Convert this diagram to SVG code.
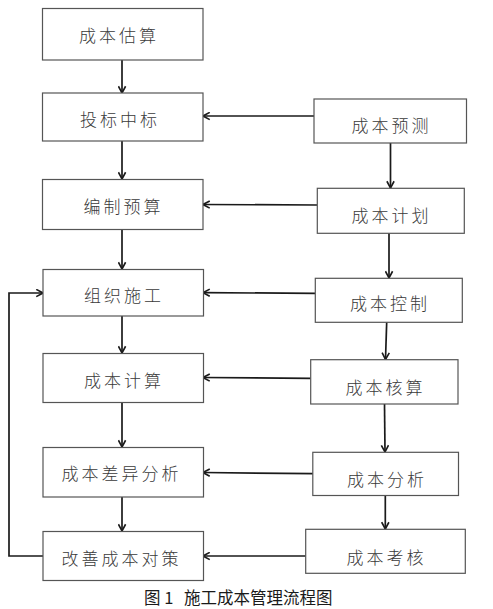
<svg xmlns="http://www.w3.org/2000/svg" width="493" height="609" viewBox="0 0 493 609">
<defs>
<style>
.box{fill:#fff;stroke:#555;stroke-width:1.2}
.lbl{font-family:"Noto Sans CJK SC","Noto Sans",sans-serif;font-size:17px;font-weight:300;fill:#3a3a3a;letter-spacing:3px;text-anchor:middle;dominant-baseline:central}
.cap{font-family:"Noto Sans CJK SC","Noto Sans",sans-serif;font-size:16.5px;fill:#1a1a1a}
.ln{fill:none;stroke:#1a1a1a;stroke-width:1.7}
.arw{marker-end:url(#arr)}
</style>
<marker id="arr" viewBox="0 0 10 10" refX="9" refY="5" markerWidth="9" markerHeight="9" markerUnits="userSpaceOnUse" orient="auto">
<path d="M1.5,1 L9,5 L1.5,9" fill="none" stroke="#1a1a1a" stroke-width="1.8"/>
</marker>
</defs>
<rect width="493" height="609" fill="#fff"/>

<g id="connectors">
<line class="ln arw" x1="122" y1="60" x2="122" y2="93"/>
<line class="ln arw" x1="122" y1="141" x2="122" y2="179"/>
<line class="ln arw" x1="122" y1="229" x2="122" y2="269"/>
<line class="ln arw" x1="122" y1="316" x2="122" y2="353"/>
<line class="ln arw" x1="122" y1="402" x2="122" y2="447"/>
<line class="ln arw" x1="122" y1="497" x2="122" y2="531"/>
<polyline class="ln arw" points="43,556 9,556 9,293 43,293"/>

<line class="ln arw" x1="390.5" y1="143" x2="390.5" y2="188"/>
<line class="ln arw" x1="389" y1="233" x2="389" y2="278"/>
<line class="ln arw" x1="386.7" y1="322" x2="385.5" y2="359.5"/>
<line class="ln arw" x1="384.5" y1="404" x2="385" y2="452"/>
<line class="ln arw" x1="385.3" y1="495.5" x2="385.3" y2="529"/>

<line class="ln arw" x1="314" y1="116" x2="203" y2="116"/>
<line class="ln arw" x1="317" y1="205" x2="203" y2="204.5"/>
<line class="ln arw" x1="315" y1="293.3" x2="203" y2="292.7"/>
<line class="ln arw" x1="310.7" y1="378.3" x2="203" y2="377.5"/>
<line class="ln arw" x1="313" y1="473.7" x2="203" y2="472.5"/>
<line class="ln arw" x1="305.7" y1="556" x2="203" y2="556"/>
</g>

<g id="n-gusuan"><rect class="box" x="42.5" y="8.5" width="160.5" height="51.5"/><text class="lbl" x="119" y="34">成本估算</text></g>
<g id="n-toubiao"><rect class="box" x="42.5" y="93" width="160.5" height="48"/><text class="lbl" x="120" y="118">投标中标</text></g>
<g id="n-bianzhi"><rect class="box" x="42.5" y="179.5" width="160.5" height="50"/><text class="lbl" x="123.5" y="205">编制预算</text></g>
<g id="n-zuzhi"><rect class="box" x="43" y="269.5" width="160.5" height="46.5"/><text class="lbl" x="124" y="294">组织施工</text></g>
<g id="n-jisuan"><rect class="box" x="43" y="353.5" width="160.5" height="49"/><text class="lbl" x="124" y="379">成本计算</text></g>
<g id="n-chayi"><rect class="box" x="43" y="447.5" width="160.5" height="49.5"/><text class="lbl" x="121.5" y="472.5">成本差异分析</text></g>
<g id="n-gaishan"><rect class="box" x="43" y="531.5" width="160.5" height="49"/><text class="lbl" x="121.5" y="557.5">改善成本对策</text></g>

<g id="n-yuce"><rect class="box" x="314" y="99" width="152.5" height="44"/><text class="lbl" x="391.5" y="124.5">成本预测</text></g>
<g id="n-jihua"><rect class="box" x="317.3" y="188.3" width="147" height="45"/><text class="lbl" x="391.5" y="214.5">成本计划</text></g>
<g id="n-kongzhi"><rect class="box" x="315.3" y="278.3" width="147" height="44"/><text class="lbl" x="390" y="302.5">成本控制</text></g>
<g id="n-hesuan"><rect class="box" x="310.7" y="359.7" width="147.3" height="44.3"/><text class="lbl" x="385.5" y="386">成本核算</text></g>
<g id="n-fenxi"><rect class="box" x="312.8" y="452.3" width="145.7" height="43.2"/><text class="lbl" x="387" y="478">成本分析</text></g>
<g id="n-kaohe"><rect class="box" x="305.7" y="529.3" width="159.6" height="44"/><text class="lbl" x="386.5" y="556.5">成本考核</text></g>

<g id="caption">
<text class="cap" x="144" y="604">图 1</text>
<text class="cap" x="184" y="604">施工成本管理流程图</text>
</g>
</svg>
